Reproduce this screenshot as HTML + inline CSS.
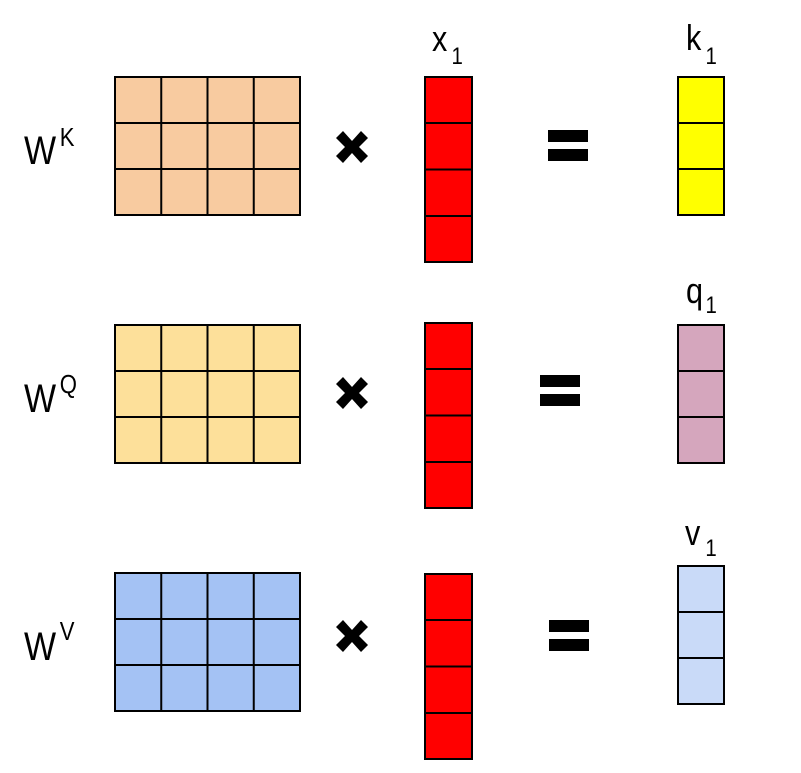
<!DOCTYPE html>
<html><head><style>body{margin:0;background:#fff}svg{display:block}text{font-family:"Liberation Sans",Arial,sans-serif}</style></head><body>
<svg width="801" height="773" xmlns="http://www.w3.org/2000/svg">
<defs>
<g id="grid"><rect x="0" y="0" width="185" height="138" stroke="#000" stroke-width="2" fill="inherit"/>
<path d="M46.25 0V138M92.5 0V138M138.75 0V138M0 46H185M0 92H185" stroke="#000" stroke-width="2"/></g>
<g id="col4"><rect x="0" y="0" width="47" height="185" fill="#ff0000" stroke="#000" stroke-width="2"/>
<path d="M0 46H47M0 92.5H47M0 139H47" stroke="#000" stroke-width="2"/></g>
<g id="col3"><rect x="0" y="0" width="46" height="138" stroke="#000" stroke-width="2" fill="inherit"/>
<path d="M0 46H46M0 92H46" stroke="#000" stroke-width="2"/></g>
<path id="x" d="M0 7L7 0L16 10L25 0L32 7L23 16L32 25L25 32L16 22L7 32L0 25L9 16Z" fill="#000"/>
<g id="eq"><rect x="0" y="0" width="40" height="12" fill="#000"/><rect x="0" y="19" width="40" height="12" fill="#000"/></g>
</defs>

<!-- Row 1 -->
<g transform="translate(24,0) scale(0.85,1)"><text x="0" y="164" font-size="40">W</text><text x="42" y="146" font-size="26">K</text></g>
<use href="#grid" x="115" y="77" fill="#f8cba0"/>
<use href="#x" x="336" y="131"/>
<use href="#col4" x="425" y="77"/>
<g transform="translate(432,0) scale(0.85,1)"><text x="0" y="51" font-size="36">x</text><text x="23" y="64" font-size="24">1</text></g>
<use href="#eq" x="548" y="130"/>
<use href="#col3" x="678" y="77" fill="#ffff00"/>
<g transform="translate(686,0) scale(0.85,1)"><text x="0" y="50" font-size="36">k</text><text x="23" y="64" font-size="24">1</text></g>

<!-- Row 2 -->
<g transform="translate(24,0) scale(0.85,1)"><text x="0" y="412" font-size="40">W</text><text x="42" y="393" font-size="26">Q</text></g>
<use href="#grid" x="115" y="325" fill="#fde09a"/>
<use href="#x" x="336" y="377"/>
<use href="#col4" x="425" y="323"/>
<use href="#eq" x="540" y="375"/>
<use href="#col3" x="678" y="325" fill="#d5a6bd"/>
<g transform="translate(686,0) scale(0.85,1)"><text x="0" y="303" font-size="36">q</text><text x="23" y="313" font-size="24">1</text></g>

<!-- Row 3 -->
<g transform="translate(24,0) scale(0.85,1)"><text x="0" y="660" font-size="40">W</text><text x="42" y="640" font-size="26">V</text></g>
<use href="#grid" x="115" y="573" fill="#a4c2f4"/>
<use href="#x" x="336" y="620"/>
<use href="#col4" x="425" y="574"/>
<use href="#eq" x="549" y="620"/>
<use href="#col3" x="678" y="566" fill="#c9daf8"/>
<g transform="translate(685,0) scale(0.85,1)"><text x="0" y="545" font-size="36">v</text><text x="24" y="556" font-size="24">1</text></g>
</svg>
</body></html>
